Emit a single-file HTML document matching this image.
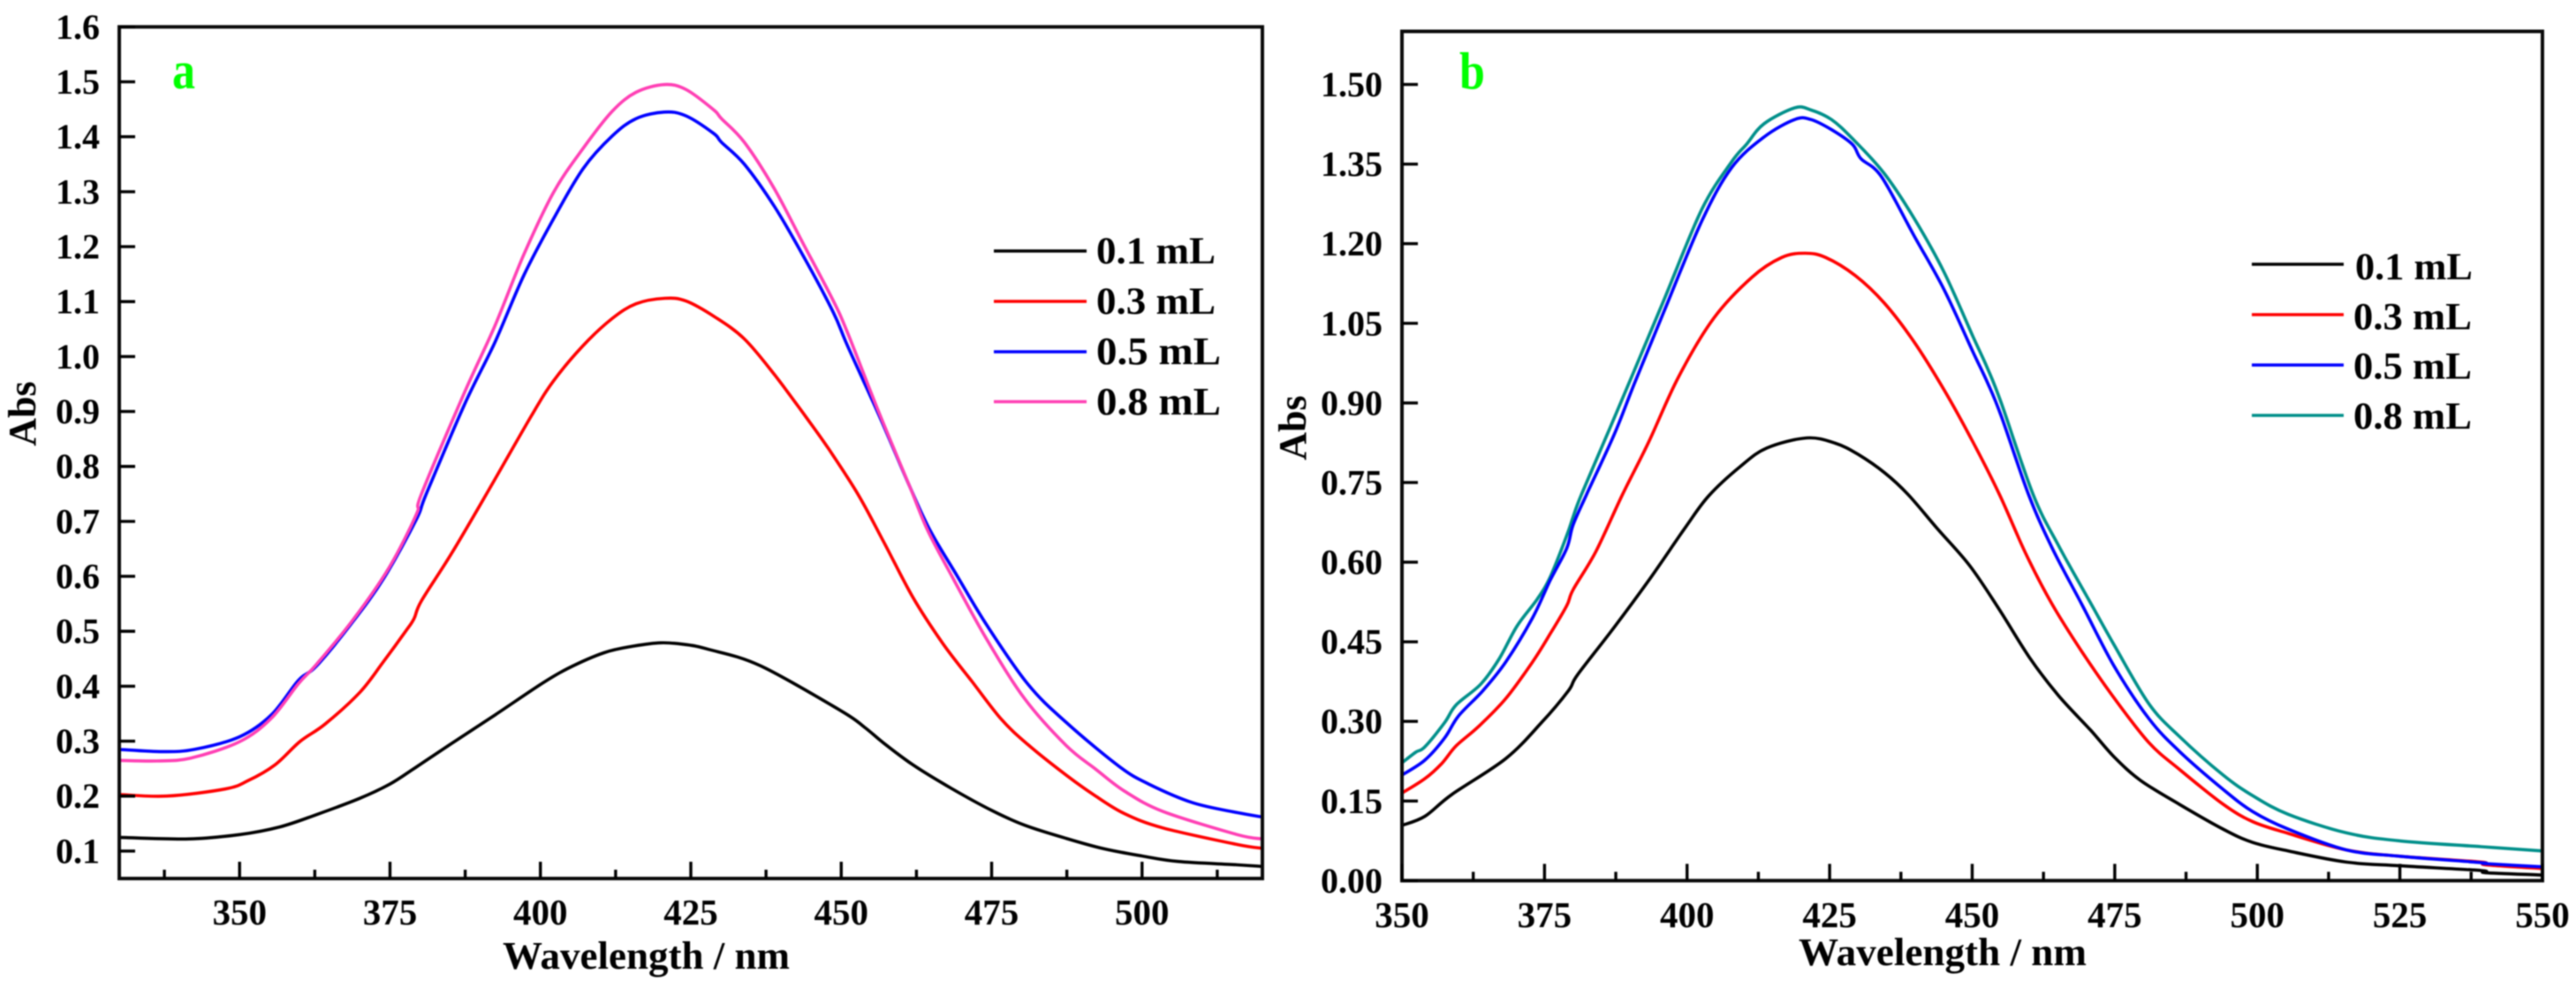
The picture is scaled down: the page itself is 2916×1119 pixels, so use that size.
<!DOCTYPE html>
<html lang="en">
<head>
<meta charset="utf-8">
<title>Absorbance spectra, panels a and b</title>
<style>
html,body{margin:0;padding:0;background:#fff;width:2916px;height:1119px;overflow:hidden}
svg{display:block;filter:blur(.8px)}
text{font-family:"Liberation Serif",serif;font-weight:bold;fill:#000}
</style>
</head>
<body>
<svg id="figure" xmlns="http://www.w3.org/2000/svg" width="2916" height="1119" viewBox="0 0 2916 1119">
  <rect x="0" y="0" width="2916" height="1119" fill="#fff"/>
  <g id="panel-a"></g>
  <g id="panel-b"></g>

  <text transform="translate(195 100) scale(1 1.16)" font-size="52" style="fill:#00ff00">a</text>
  <text transform="translate(1652 100) scale(1 1.14)" font-size="52" style="fill:#00ff00">b</text>

  <text x="569" y="1096" font-size="44" textLength="325" lengthAdjust="spacingAndGlyphs">Wavelength / nm</text>
  <text x="2036" y="1092" font-size="44" textLength="326" lengthAdjust="spacingAndGlyphs">Wavelength / nm</text>
  <text transform="translate(40 468) rotate(-90)" text-anchor="middle" font-size="44">Abs</text>
  <text transform="translate(1478 484) rotate(-90)" text-anchor="middle" font-size="44">Abs</text>

  <g>
    <line x1="1125" x2="1230" y1="284" y2="284" stroke="#000" stroke-width="3.5"/>
    <text x="1241" y="298" font-size="43" textLength="135" lengthAdjust="spacingAndGlyphs">0.1 mL</text>
    <line x1="1125" x2="1230" y1="341" y2="341" stroke="#ff0000" stroke-width="3.5"/>
    <text x="1241" y="355" font-size="43" textLength="135" lengthAdjust="spacingAndGlyphs">0.3 mL</text>
    <line x1="1125" x2="1230" y1="398" y2="398" stroke="#0000ff" stroke-width="3.5"/>
    <text x="1241" y="412" font-size="44" textLength="141" lengthAdjust="spacingAndGlyphs">0.5 mL</text>
    <line x1="1125" x2="1230" y1="454.5" y2="454.5" stroke="#ff3fb4" stroke-width="3.5"/>
    <text x="1241" y="469" font-size="44" textLength="141" lengthAdjust="spacingAndGlyphs">0.8 mL</text>
  </g>

  <g>
    <line x1="2549" x2="2653" y1="299" y2="299" stroke="#000" stroke-width="3.5"/>
    <text x="2666" y="316" font-size="43" textLength="133" lengthAdjust="spacingAndGlyphs">0.1 mL</text>
    <line x1="2549" x2="2653" y1="356" y2="356" stroke="#ff0000" stroke-width="3.5"/>
    <text x="2664" y="372.5" font-size="43" textLength="134" lengthAdjust="spacingAndGlyphs">0.3 mL</text>
    <line x1="2549" x2="2653" y1="413" y2="413" stroke="#0000ff" stroke-width="3.5"/>
    <text x="2664" y="428.5" font-size="43" textLength="134" lengthAdjust="spacingAndGlyphs">0.5 mL</text>
    <line x1="2549" x2="2653" y1="470" y2="470" stroke="#008f8a" stroke-width="3.5"/>
    <text x="2664" y="485" font-size="43" textLength="134" lengthAdjust="spacingAndGlyphs">0.8 mL</text>
  </g>
</svg>

<script>
// ---------- Panel a data ----------
const aXMajorTicks = [350, 375, 400, 425, 450, 475, 500];
const aXMinorTicks = [337.5, 362.5, 387.5, 412.5, 437.5, 462.5, 487.5, 512.5];
const aYTicks = [0.1, 0.2, 0.3, 0.4, 0.5, 0.6, 0.7, 0.8, 0.9, 1.0, 1.1, 1.2, 1.3, 1.4, 1.5, 1.6];
const aYTickLabels = ["0.1", "0.2", "0.3", "0.4", "0.5", "0.6", "0.7", "0.8", "0.9", "1.0", "1.1", "1.2", "1.3", "1.4", "1.5", "1.6"];

const aWl01 = [330, 341.6, 350, 356.7, 362.7, 370, 375, 378.7, 380.6, 385, 392.5, 400, 404.5, 410.6, 415.5, 420, 424, 428, 436.6, 450, 453.9, 457, 461.9, 468.3, 475, 480.5, 487.4, 493.7, 500, 506, 515.8, 520];
const aAbs01 = [0.125, 0.122, 0.13, 0.144, 0.166, 0.196, 0.222, 0.248, 0.262, 0.294, 0.348, 0.403, 0.432, 0.461, 0.473, 0.479, 0.476, 0.467, 0.437, 0.355, 0.325, 0.297, 0.257, 0.214, 0.174, 0.147, 0.123, 0.104, 0.091, 0.081, 0.075, 0.072];

const aWl03 = [330, 337.9, 347.6, 351.4, 355.9, 360, 364.2, 370, 373.8, 377.6, 379, 380.2, 385.2, 391, 398.5, 402.2, 407.1, 411.9, 415.9, 420.7, 424.2, 429, 433.9, 438.9, 444, 447.9, 452.8, 457, 461.9, 466.8, 471.7, 476.6, 481, 487.4, 492.3, 497.1, 503.5, 515.8, 520];
const aAbs03 = [0.203, 0.2, 0.213, 0.228, 0.257, 0.299, 0.331, 0.389, 0.443, 0.5, 0.523, 0.555, 0.641, 0.749, 0.892, 0.956, 1.02, 1.069, 1.096, 1.106, 1.101, 1.072, 1.032, 0.967, 0.892, 0.832, 0.749, 0.664, 0.562, 0.479, 0.409, 0.34, 0.294, 0.238, 0.2, 0.168, 0.142, 0.112, 0.105];

const aWl05 = [330, 337.2, 342.5, 350, 355.3, 359.8, 362.8, 368.8, 374, 379.4, 381, 387.4, 392.4, 397.3, 402.2, 407.1, 411.9, 415.9, 420.6, 424.2, 428.8, 430.1, 433.9, 438.9, 443.8, 448.7, 451.1, 456.2, 461.4, 464.8, 469.2, 474.2, 481, 487.4, 496.2, 501.1, 508.4, 515.8, 520];
const aAbs05 = [0.285, 0.281, 0.285, 0.308, 0.348, 0.411, 0.437, 0.517, 0.597, 0.704, 0.749, 0.913, 1.025, 1.149, 1.251, 1.342, 1.401, 1.433, 1.445, 1.438, 1.406, 1.39, 1.35, 1.273, 1.181, 1.08, 1.018, 0.895, 0.763, 0.683, 0.602, 0.511, 0.404, 0.334, 0.254, 0.222, 0.188, 0.17, 0.162];

const aWl08 = [330, 336.2, 341.8, 350, 355.3, 359.8, 362.8, 368.8, 374.8, 379.4, 380.2, 387.4, 392.4, 397.3, 402.2, 407.1, 411.9, 415.9, 420.6, 424.2, 428.8, 430.1, 433.9, 438.9, 443.8, 448.7, 451.1, 456.2, 461.4, 464.4, 468.8, 474.2, 480.5, 487.4, 492.3, 497.1, 503.5, 515.8, 520];
const aAbs08 = [0.265, 0.264, 0.269, 0.299, 0.342, 0.405, 0.44, 0.52, 0.615, 0.713, 0.749, 0.935, 1.055, 1.187, 1.299, 1.379, 1.446, 1.481, 1.495, 1.486, 1.449, 1.433, 1.39, 1.305, 1.203, 1.101, 1.042, 0.9, 0.763, 0.683, 0.592, 0.485, 0.377, 0.292, 0.249, 0.209, 0.172, 0.13, 0.122];

// ---------- Panel b data ----------
const bXMajorTicks = [350, 375, 400, 425, 450, 475, 500, 525, 550];
const bXMinorTicks = [362.5, 387.5, 412.5, 437.5, 462.5, 487.5, 512.5, 537.5];
const bYTicks = [0, 0.15, 0.3, 0.45, 0.6, 0.75, 0.9, 1.05, 1.2, 1.35, 1.5];
const bYTickLabels = ["0.00", "0.15", "0.30", "0.45", "0.60", "0.75", "0.90", "1.05", "1.20", "1.35", "1.50"];

const bWl01 = [350, 354, 358.7, 368.2, 374.5, 379.2, 380.8, 387.2, 393.5, 399.8, 403.8, 409.3, 414, 421, 426, 430, 434.7, 438.8, 443.9, 449.6, 454.8, 460, 465.1, 470.8, 474.9, 479.5, 486.3, 494, 499.2, 505.4, 515.6, 525, 539.3, 540, 550];
const bAbs01 = [0.104, 0.121, 0.162, 0.23, 0.298, 0.358, 0.388, 0.477, 0.569, 0.667, 0.725, 0.78, 0.815, 0.834, 0.824, 0.803, 0.768, 0.727, 0.663, 0.593, 0.51, 0.421, 0.349, 0.283, 0.233, 0.189, 0.144, 0.097, 0.072, 0.056, 0.035, 0.028, 0.019, 0.015, 0.0105];

const bWl03 = [350, 354, 357, 359.5, 363.4, 368.2, 372.9, 376, 378.9, 380, 384, 388.7, 393.3, 398.5, 404.7, 411.4, 416.6, 420.7, 424.3, 429.5, 434.6, 439.8, 445, 450.1, 454.8, 459.4, 464, 469.2, 474.9, 481, 486.3, 494, 499.2, 505.4, 515.6, 525, 539.3, 540, 550];
const bAbs03 = [0.165, 0.192, 0.221, 0.254, 0.29, 0.343, 0.412, 0.465, 0.518, 0.548, 0.62, 0.728, 0.827, 0.949, 1.06, 1.137, 1.174, 1.182, 1.174, 1.14, 1.088, 1.015, 0.926, 0.827, 0.727, 0.616, 0.521, 0.432, 0.344, 0.26, 0.21, 0.144, 0.111, 0.089, 0.058, 0.046, 0.035, 0.03, 0.023];

const bWl05 = [350, 354, 357.5, 359.9, 364.2, 368.2, 372.9, 376, 378.9, 380, 382.4, 387.2, 390.7, 395.9, 402.6, 407.8, 413.5, 418.9, 421.7, 425.3, 429, 430.5, 434.1, 439.8, 445, 450.1, 452.7, 455.1, 459.9, 464, 469.2, 474.9, 481, 486.3, 494, 499.2, 505.4, 515.6, 525, 539.3, 540, 550];
const bAbs05 = [0.199, 0.227, 0.269, 0.31, 0.358, 0.412, 0.495, 0.566, 0.626, 0.67, 0.728, 0.84, 0.935, 1.071, 1.243, 1.343, 1.401, 1.434, 1.434, 1.415, 1.387, 1.36, 1.326, 1.215, 1.115, 0.997, 0.938, 0.875, 0.727, 0.627, 0.521, 0.404, 0.305, 0.244, 0.172, 0.13, 0.097, 0.058, 0.046, 0.034, 0.032, 0.026];

const bWl08 = [350, 352.4, 354, 357.5, 359.5, 363.8, 367, 370.2, 373.7, 376, 378.9, 380, 381.5, 386.4, 390.7, 395.9, 402.6, 407.8, 410.4, 413.5, 418.9, 421.7, 425.3, 429, 434.6, 439.8, 445, 450.1, 452.7, 455.1, 460.7, 465.1, 470.3, 474.9, 481, 486.3, 494, 499.2, 505.4, 515.6, 525, 539.3, 550];
const bAbs08 = [0.222, 0.242, 0.252, 0.298, 0.331, 0.37, 0.417, 0.48, 0.53, 0.572, 0.65, 0.685, 0.728, 0.851, 0.96, 1.093, 1.265, 1.354, 1.387, 1.426, 1.456, 1.452, 1.434, 1.398, 1.332, 1.248, 1.148, 1.026, 0.965, 0.9, 0.727, 0.632, 0.532, 0.444, 0.333, 0.272, 0.199, 0.16, 0.125, 0.09, 0.075, 0.064, 0.056];

// ---------- Axis functions ----------
function xA(wl) { return 135 + (wl - 330) * (1429 - 135) / 190; }
function yA(v) { return 994 - (v - 0.05) * (994 - 30.4) / 1.55; }
function xB(wl) { return 1587 + (wl - 350) * (2878 - 1587) / 200; }
function yB(v) { return 996.4 - v * (996.4 - 35.5) / 1.6; }

const SVG_NS = 'http://www.w3.org/2000/svg';

function make(tag, parent, attrs) {
  const node = document.createElementNS(SVG_NS, tag);
  for (const k in attrs) node.setAttribute(k, attrs[k]);
  parent.appendChild(node);
  return node;
}

// Catmull-Rom spline through the read points
function smoothPath(xs, ys, xFn, yFn) {
  const pts = xs.map(function (w, i) { return [xFn(w), yFn(ys[i])]; });
  let d = 'M' + pts[0][0].toFixed(1) + ' ' + pts[0][1].toFixed(1);
  for (let i = 0; i < pts.length - 1; i++) {
    const p0 = pts[Math.max(i - 1, 0)];
    const p1 = pts[i];
    const p2 = pts[i + 1];
    const p3 = pts[Math.min(i + 2, pts.length - 1)];
    const c1x = p1[0] + (p2[0] - p0[0]) / 6;
    const c1y = p1[1] + (p2[1] - p0[1]) / 6;
    const c2x = p2[0] - (p3[0] - p1[0]) / 6;
    const c2y = p2[1] - (p3[1] - p1[1]) / 6;
    d += 'C' + c1x.toFixed(1) + ' ' + c1y.toFixed(1) + ' ' + c2x.toFixed(1) + ' ' + c2y.toFixed(1) + ' ' + p2[0].toFixed(1) + ' ' + p2[1].toFixed(1);
  }
  return d;
}

function drawPanel(panelId, prefix, xFn, yFn, box, xMajor, xMinor, yTicks, yLabels, yLabelRight, xLabelBase, series) {
  const g = document.getElementById(panelId);

  series.forEach(function (s) {
    const curve = make('path', g, {
      d: smoothPath(s.wl, s.abs, xFn, yFn),
      fill: 'none',
      stroke: s.color,
      'stroke-width': 3.6,
      'stroke-linejoin': 'round'
    });
    
    
  });

  const frame = make('rect', g, {
    x: box.l, y: box.t, width: box.r - box.l, height: box.b - box.t,
    fill: 'none', stroke: '#0a0a0a', 'stroke-width': 4
  });
  
  

  xMajor.forEach(function (t) {
    const tick = make('line', g, { x1: xFn(t), x2: xFn(t), y1: box.b, y2: box.b - 19, stroke: '#000', 'stroke-width': 3.4 });
    
    
    const label = make('text', g, { x: xFn(t), y: xLabelBase, 'text-anchor': 'middle', 'font-size': 41 });
    label.textContent = String(t);
    
    
  });

  xMinor.forEach(function (t) {
    const tick = make('line', g, { x1: xFn(t), x2: xFn(t), y1: box.b, y2: box.b - 10, stroke: '#000', 'stroke-width': 3.4 });
    
    
  });

  yTicks.forEach(function (t, i) {
    const tick = make('line', g, { x1: box.l, x2: box.l + 18, y1: yFn(t), y2: yFn(t), stroke: '#000', 'stroke-width': 3.4 });
    
    
    const label = make('text', g, { x: yLabelRight, y: yFn(t) + 13.5, 'text-anchor': 'end', 'font-size': 40 });
    label.textContent = yLabels[i];
    
    
  });
}

drawPanel('panel-a', 'panel-a', xA, yA, { l: 135, r: 1429, t: 30.4, b: 994 },
  aXMajorTicks, aXMinorTicks, aYTicks, aYTickLabels, 113, 1046, [
    { key: '0-1-ml', color: '#000000', wl: aWl01, abs: aAbs01 },
    { key: '0-3-ml', color: '#ff0000', wl: aWl03, abs: aAbs03 },
    { key: '0-5-ml', color: '#0000ff', wl: aWl05, abs: aAbs05 },
    { key: '0-8-ml', color: '#ff3fb4', wl: aWl08, abs: aAbs08 }
  ]);

drawPanel('panel-b', 'panel-b', xB, yB, { l: 1587, r: 2878, t: 35.5, b: 996.4 },
  bXMajorTicks, bXMinorTicks, bYTicks, bYTickLabels, 1565, 1049, [
    { key: '0-1-ml', color: '#000000', wl: bWl01, abs: bAbs01 },
    { key: '0-3-ml', color: '#ff0000', wl: bWl03, abs: bAbs03 },
    { key: '0-8-ml', color: '#008f8a', wl: bWl08, abs: bAbs08 },
    { key: '0-5-ml', color: '#0000ff', wl: bWl05, abs: bAbs05 }
  ]);
</script>
</body>
</html>
